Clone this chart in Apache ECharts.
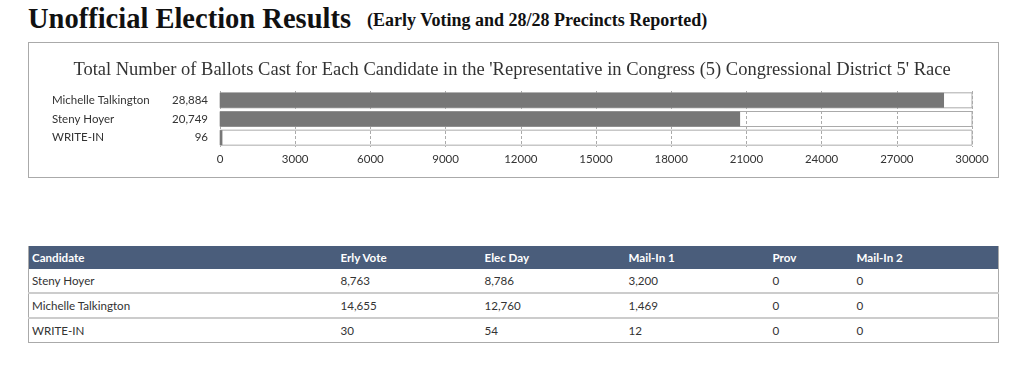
<!DOCTYPE html>
<html>
<head>
<meta charset="utf-8">
<script src="https://cdn.jsdelivr.net/npm/echarts@6/dist/echarts.min.js"></script>
<style>
  html, body { margin: 0; padding: 0; background: #fff; }
  body { width: 1024px; height: 372px; position: relative; overflow: hidden; font-family: "Lato", sans-serif; color: #333; }
  #h1 { position: absolute; left: 28px; top: 3px; font: bold 28.5px "Liberation Serif", serif; line-height: 32px; color: #111; white-space: nowrap; }
  #h2 { position: absolute; left: 367px; top: 10px; font: bold 18px "Liberation Serif", serif; line-height: 20px; color: #111; white-space: nowrap; }
  #box { position: absolute; left: 28px; top: 42px; width: 969px; height: 134px; border: 1px solid #aaa; }
  #chart { position: absolute; left: 0; top: 0; width: 1024px; height: 190px; }
  #table { position: absolute; left: 28px; top: 246px; width: 970px; border-collapse: collapse; table-layout: fixed; font-size: 11.6px; }
  #table th, #table td { padding: 0 0 0 3px; text-align: left; height: 23px; white-space: nowrap; }
  #table th { background: #4a5d7b; color: #fff; font-weight: bold; height: 23px; }
  #table td { border-bottom: 2px solid #ccc; }
  #table { border-left: 1px solid #aaa; border-right: 1px solid #aaa; }
  #table tr:last-child td { border-bottom: 1px solid #aaa; }
</style>
</head>
<body>
<div id="h1">Unofficial Election Results</div>
<div id="h2">(Early Voting and 28/28 Precincts Reported)</div>
<div id="box"></div>
<div id="chart"></div>
<table id="table"></table>
<script>
// ---- data ----
const chartTitle = "Total Number of Ballots Cast for Each Candidate in the 'Representative in Congress (5) Congressional District 5' Race";
const categories = ['Michelle Talkington', 'Steny Hoyer', 'WRITE-IN'];
const totals = [28884, 20749, 96];
const xMin = 0, xMax = 30000, xInterval = 3000;

const tableColumns = ['Candidate', 'Erly Vote', 'Elec Day', 'Mail-In 1', 'Prov', 'Mail-In 2'];
const tableCandidates = ['Steny Hoyer', 'Michelle Talkington', 'WRITE-IN'];
const erlyVote = [8763, 14655, 30];
const elecDay = [8786, 12760, 54];
const mailIn1 = [3200, 1469, 12];
const prov = [0, 0, 0];
const mailIn2 = [0, 0, 0];

const fmt = v => v.toLocaleString('en-US');

// ---- table ----
const colWidths = [309, 144, 144, 144, 84, 145];
const tbl = document.getElementById('table');
let html = '<colgroup>' + colWidths.map(w => '<col style="width:' + w + 'px">').join('') + '</colgroup>';
html += '<tr>' + tableColumns.map(c => '<th>' + c + '</th>').join('') + '</tr>';
tableCandidates.forEach((name, i) => {
  const vals = [erlyVote[i], elecDay[i], mailIn1[i], prov[i], mailIn2[i]];
  html += '<tr><td>' + name + '</td>' + vals.map(v => '<td>' + fmt(v) + '</td>').join('') + '</tr>';
});
tbl.innerHTML = html;

// ---- chart ----
const chart = echarts.init(document.getElementById('chart'), null, { renderer: 'canvas' });
chart.setOption({
  animation: false,
  title: {
    text: chartTitle,
    left: 'center',
    top: 56,
    textStyle: { fontFamily: 'Liberation Serif', fontSize: 18.5, fontWeight: 'normal', color: '#333' }
  },
  grid: { left: 220, right: 52, top: 91, height: 56, containLabel: false },
  xAxis: {
    type: 'value', min: xMin, max: xMax, interval: xInterval,
    axisLine: { show: false }, axisTick: { show: false },
    axisLabel: { color: '#333', fontFamily: 'Lato', fontSize: 11.5, margin: 6, formatter: v => String(v) },
    splitLine: { show: true, lineStyle: { type: [3, 2], color: '#aaa', width: 1 } }
  },
  yAxis: {
    type: 'category', data: categories, inverse: true,
    axisLine: { show: false }, axisTick: { show: false },
    axisLabel: {
      align: 'left', margin: 168,
      formatter: (value, idx) => '{n|' + value + '}{v|' + fmt(totals[idx]) + '}',
      rich: {
        n: { width: 120, align: 'left', color: '#333', fontFamily: 'Lato', fontSize: 11.5 },
        v: { width: 36, align: 'right', color: '#333', fontFamily: 'Lato', fontSize: 11.5 }
      }
    }
  },
  series: [{
    type: 'bar', data: totals, barWidth: 15,
    itemStyle: { color: '#777' },
    showBackground: true,
    backgroundStyle: { color: 'rgba(255,255,255,0)', borderColor: '#aaa', borderWidth: 1 }
  }]
});
</script>
</body>
</html>
